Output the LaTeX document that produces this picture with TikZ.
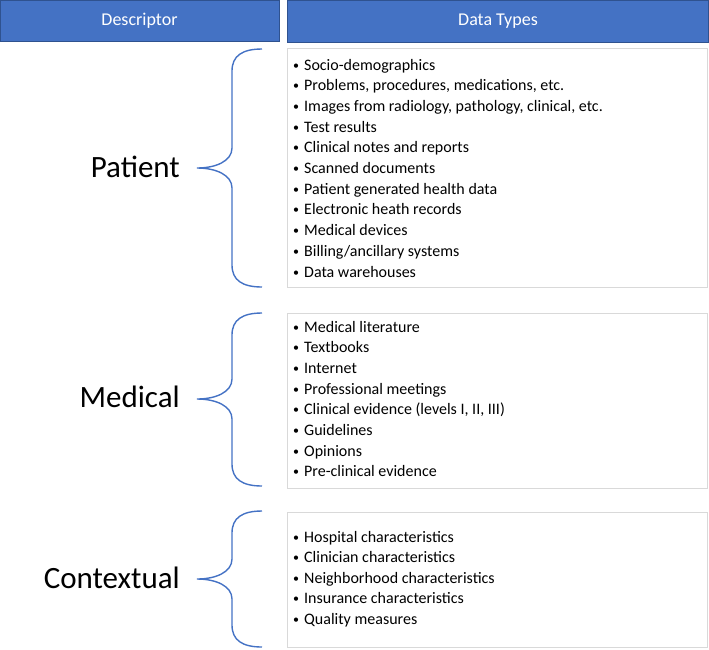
\documentclass[tikz,border=0pt]{standalone}
\usepackage{fontspec}
\setmainfont{Carlito}
\definecolor{hdrblue}{HTML}{4472C4}
\definecolor{hdredge}{HTML}{2F528F}
\definecolor{boxedge}{HTML}{D9D9D9}
\begin{document}
\begin{tikzpicture}[x=1pt,y=-1pt,
  hdr/.style={draw=hdredge,fill=hdrblue,line width=1pt},
  hdrtext/.style={text=white,font=\fontsize{18}{22}\selectfont,inner sep=0pt},
  listbox/.style={draw=boxedge,fill=white,line width=1pt},
  item/.style={font=\fontsize{16}{20}\selectfont,inner sep=0pt,anchor=base west},
  label/.style={font=\fontsize{31}{36}\selectfont,inner sep=0pt,anchor=base east},
  brace/.style={draw=hdrblue,line width=1.4pt}]
\useasboundingbox (0,0) rectangle (709,649);
% headers
\draw[hdr] (0.5,0.5) rectangle (279,41);
\draw[hdr] (287,0.5) rectangle (708.5,42);
\node[hdrtext] (hd) at (139.5,20.5) {Descriptor};
\node[hdrtext] (hy) at (498,21) {Data Types};
% list boxes
\draw[listbox] (287,48) rectangle (707,287);
\draw[listbox] (287,313) rectangle (707,488);
\draw[listbox] (287,512) rectangle (707,647);
% labels
\node[label] (lp) at (180,177) {Patient};
\node[label] (lm) at (180,407) {Medical};
\node[label] (lc) at (180,588) {Contextual};
% braces
\foreach \ya/\ym/\yb in {49/168/287, 313/399/486, 511/579/647}{
  \draw[brace] (262,\ya) .. controls (242,\ya) and (232,\ya+7) .. (232,\ya+22)
    -- (232,\ym-20) .. controls (232,\ym-7) and (216,\ym) .. (197,\ym)
    .. controls (216,\ym) and (232,\ym+7) .. (232,\ym+20)
    -- (232,\yb-22) .. controls (232,\yb-7) and (242,\yb) .. (262,\yb);
}
% patient items
\foreach \t [count=\i] in {Socio-demographics, {Problems, procedures, medications, etc.}, {Images from radiology, pathology, clinical, etc.}, Test results, Clinical notes and reports, Scanned documents, Patient generated health data, Electronic heath records, Medical devices, Billing/ancillary systems, Data warehouses}{
  \node[item] (p\i) at (293,{70+(\i-1)*20.7}) {\makebox[11pt][l]{\fontsize{12}{12}\selectfont\raisebox{1pt}{•}}\t};
}
% medical items
\foreach \t [count=\i] in {Medical literature, Textbooks, Internet, Professional meetings, {Clinical evidence (levels I, II, III)}, Guidelines, Opinions, Pre-clinical evidence}{
  \node[item] (m\i) at (293,{332+(\i-1)*20.7}) {\makebox[11pt][l]{\fontsize{12}{12}\selectfont\raisebox{1pt}{•}}\t};
}
% contextual items
\foreach \t [count=\i] in {Hospital characteristics, Clinician characteristics, Neighborhood characteristics, Insurance characteristics, Quality measures}{
  \node[item] (c\i) at (293,{542+(\i-1)*20.5}) {\makebox[11pt][l]{\fontsize{12}{12}\selectfont\raisebox{1pt}{•}}\t};
}
\end{tikzpicture}
\end{document}
